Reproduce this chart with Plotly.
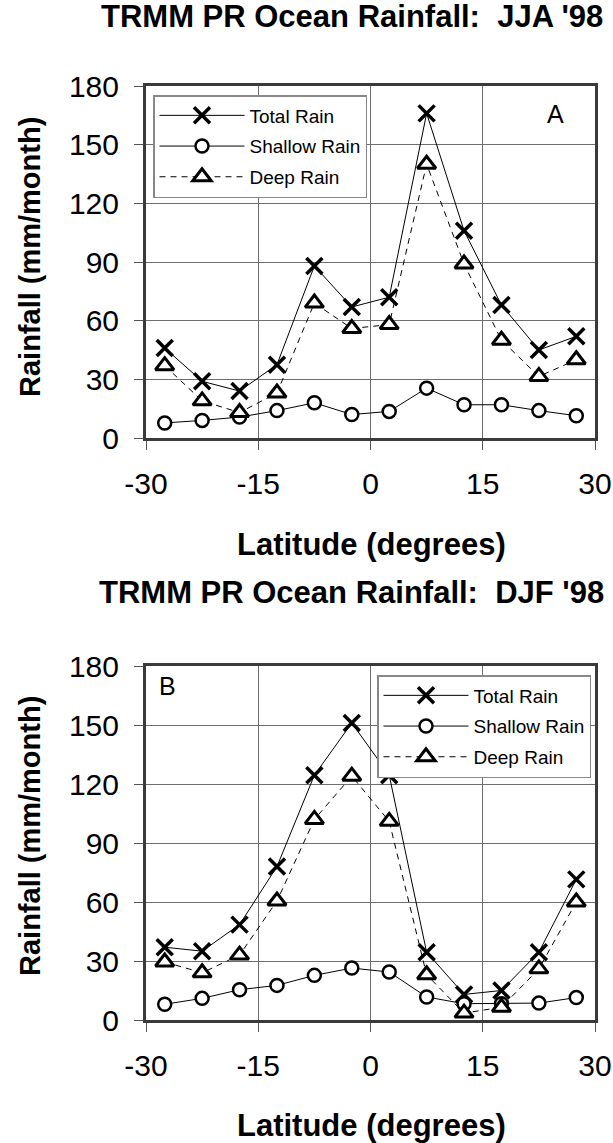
import plotly.graph_objects as go

lat = [-27.5, -22.5, -17.5, -12.5, -7.5, -2.5, 2.5, 7.5, 12.5, 17.5, 22.5, 27.5]

jja_total = [46, 29, 24, 37.5, 88, 67, 72, 166, 106, 68, 45, 52]
jja_shallow = [7.7, 9, 10.7, 14, 18, 12, 13.6, 25.5, 17, 17, 14, 11.4]
jja_deep = [37, 19, 13, 23, 69, 56, 58, 140, 89, 50, 31.5, 40]

djf_total = [37, 35, 48.5, 78, 124.5, 151, 124.5, 34.5, 13, 15, 34.5, 71.5]
djf_shallow = [8, 11, 15.4, 17.6, 22.7, 26.4, 24.4, 11.7, 8.3, 8.3, 8.6, 11.4]
djf_deep = [29.5, 24, 33, 60.5, 102, 124, 101, 23, 3.5, 6.5, 26, 60]

series_names = ["Total Rain", "Shallow Rain", "Deep Rain"]
titles = ["TRMM PR Ocean Rainfall:  JJA '98", "TRMM PR Ocean Rainfall:  DJF '98"]
panel_labels = ["A", "B"]
x_ticks = [-30, -15, 0, 15, 30]
x_ticktext = ["-30", "-15", "0", "15", "30"]
y_ticks = [0, 30, 60, 90, 120, 150, 180]

W, H = 613, 1143
FONT = "Liberation Sans, Arial, sans-serif"

def px(x):
    return x / W

def py(y):
    return 1 - y / H

fig = go.Figure()

panels = [
    dict(data=(jja_total, jja_shallow, jja_deep), xa="x", ya="y", legend="legend"),
    dict(data=(djf_total, djf_shallow, djf_deep), xa="x2", ya="y2", legend="legend2"),
]

styles = [
    dict(line=dict(color="black", width=1),
         marker=dict(symbol="x-thin", size=16, line=dict(color="black", width=3.5))),
    dict(line=dict(color="black", width=1),
         marker=dict(symbol="circle", size=13, color="white", line=dict(color="black", width=2.5))),
    dict(line=dict(color="black", width=1, dash="6px,5px"),
         marker=dict(symbol="triangle-up", size=16, color="white", line=dict(color="black", width=3))),
]

for pi, p in enumerate(panels):
    for si, (name, vals, st) in enumerate(zip(series_names, p["data"], styles)):
        fig.add_trace(go.Scatter(
            x=lat, y=vals, name=name, mode="lines+markers",
            line=st["line"], marker=st["marker"],
            xaxis=p["xa"], yaxis=p["ya"], legend=p["legend"],
            legendgroup="p%d_s%d" % (pi, si),
        ))

xdom = [px(146), px(595)]
ydomA = [py(438), py(86)]
ydomB = [py(1020), py(666)]

axis_common = dict(
    showline=True, linecolor="#3a3a3a", linewidth=3, mirror=True,
    showgrid=True, gridcolor="#6e6e6e", gridwidth=1,
    ticks="outside", ticklen=9, tickcolor="#555", tickwidth=1,
    tickfont=dict(family=FONT, size=30, color="black"),
    zeroline=False, automargin=False,
)

for i, (xa, ya, yd) in enumerate([("xaxis", "yaxis", ydomA), ("xaxis2", "yaxis2", ydomB)]):
    anchor_x = "y" if i == 0 else "y2"
    anchor_y = "x" if i == 0 else "x2"
    fig.layout[xa] = dict(domain=xdom, range=[-30, 30], tickvals=x_ticks, ticktext=x_ticktext,
                          anchor=anchor_x, ticklabelstandoff=8, **axis_common)
    fig.layout[ya] = dict(domain=yd, range=[0, 180], tickvals=y_ticks,
                          anchor=anchor_y, ticklabelstandoff=9, **axis_common)

legend_common = dict(
    font=dict(family=FONT, size=19, color="black"),
    bgcolor="white", bordercolor="#888", borderwidth=1.5,
    tracegroupgap=3, itemwidth=85,
    xanchor="left", yanchor="top",
)
fig.update_layout(
    template="none",
    width=W, height=H,
    margin=dict(l=0, r=0, t=0, b=0, autoexpand=False),
    paper_bgcolor="white", plot_bgcolor="white",
    showlegend=True,
    legend=dict(x=px(153), y=py(95), **legend_common),
    legend2=dict(x=px(377), y=py(675), **legend_common),
)

annotations = []
# panel titles
for t, yc in zip(titles, [16, 592]):
    annotations.append(dict(text="<b>%s</b>" % t, x=px(352), y=py(yc), xref="paper", yref="paper",
                            showarrow=False, xanchor="center", yanchor="middle",
                            font=dict(family=FONT, size=31, color="black")))
# y axis titles
for yc in [257, 836]:
    annotations.append(dict(text="<b>Rainfall (mm/month)</b>", x=px(30), y=py(yc), xref="paper", yref="paper",
                            showarrow=False, xanchor="center", yanchor="middle", textangle=-90,
                            font=dict(family=FONT, size=29, color="black")))
# x axis titles
for yc in [545, 1125]:
    annotations.append(dict(text="<b>Latitude (degrees)</b>", x=px(371), y=py(yc), xref="paper", yref="paper",
                            showarrow=False, xanchor="center", yanchor="middle",
                            font=dict(family=FONT, size=31, color="black")))
# panel letters
annotations.append(dict(text=panel_labels[0], x=px(555), y=py(114), xref="paper", yref="paper",
                        showarrow=False, xanchor="center", yanchor="middle",
                        font=dict(family=FONT, size=25, color="black")))
annotations.append(dict(text=panel_labels[1], x=px(167), y=py(686), xref="paper", yref="paper",
                        showarrow=False, xanchor="center", yanchor="middle",
                        font=dict(family=FONT, size=25, color="black")))
fig.update_layout(annotations=annotations)

fig.write_html("out.html")
